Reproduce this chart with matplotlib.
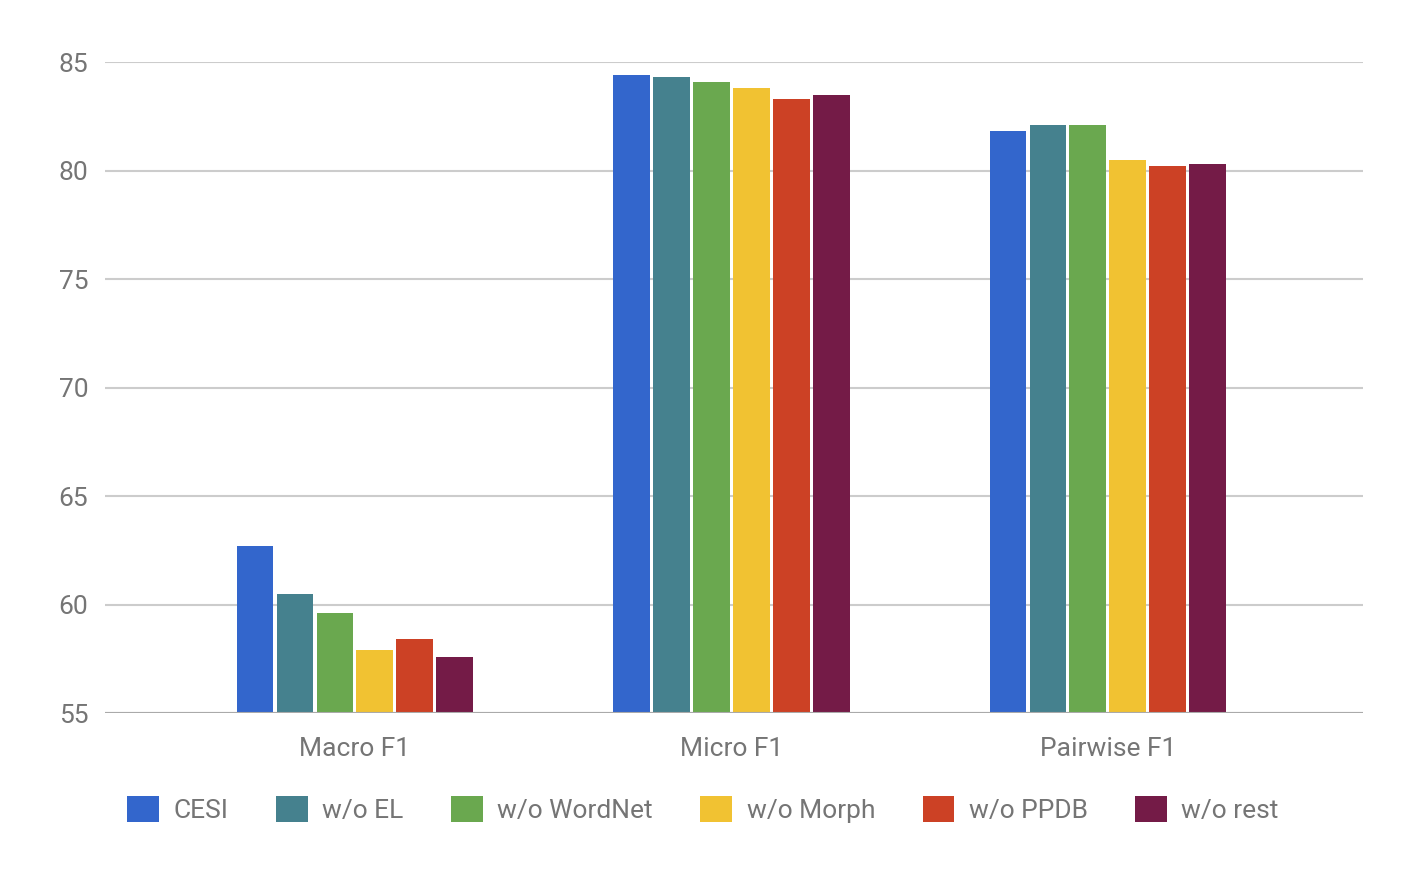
import numpy as np
import matplotlib.pyplot as plt
from matplotlib.patches import Patch

plt.rcParams['font.family'] = ['Roboto', 'DejaVu Sans']

groups = ['Macro F1', 'Micro F1', 'Pairwise F1']
series = ['CESI', 'w/o EL', 'w/o WordNet', 'w/o Morph', 'w/o PPDB', 'w/o rest']
values = [
    [62.7, 84.4, 81.8],   # CESI
    [60.5, 84.3, 82.1],   # w/o EL
    [59.6, 84.1, 82.1],   # w/o WordNet
    [57.9, 83.8, 80.5],   # w/o Morph
    [58.4, 83.3, 80.2],   # w/o PPDB
    [57.6, 83.5, 80.3],   # w/o rest
]
colors = ['#3366CC', '#45818E', '#6AA84F', '#F1C232', '#CC4125', '#741B47']
yticks = [55, 60, 65, 70, 75, 80, 85]

fig = plt.figure(figsize=(14.07, 8.71), dpi=100)
ax = fig.add_axes([0.0746, 0.1814, 0.894, 0.7474])

x = np.arange(len(groups))
step = 0.1062
width = 0.098
for i, (name, vals) in enumerate(zip(series, values)):
    off = (i - 2.5) * step
    ax.bar(x + off, np.array(vals) - 55, bottom=55, width=width,
           color=colors[i], label=name, zorder=3)

ax.set_ylim(55, 85)
ax.set_xlim(-0.664, 2.677)
ax.set_yticks(yticks)
ax.set_xticks(x)
ax.set_xticklabels(groups)
ax.grid(axis='y', color='#CCCCCC', linewidth=1.5, zorder=0)
ax.axhline(55, color='#AAAAAA', linewidth=1.5, zorder=4)
for s in ax.spines.values():
    s.set_visible(False)
ax.tick_params(axis='both', length=0, labelsize=19, colors='#757575')
ax.tick_params(axis='y', pad=12)
ax.tick_params(axis='x', pad=17)

handles = [Patch(facecolor=c, edgecolor='none', label=n) for c, n in zip(colors, series)]
fig.legend(handles=handles, loc='center', bbox_to_anchor=(0.4997, 0.071), ncol=6,
           frameon=False, fontsize=19, labelcolor='#757575',
           handlelength=1.2, handleheight=1.15, handletextpad=0.55, columnspacing=1.8)

fig.savefig('out.png', dpi=100)
